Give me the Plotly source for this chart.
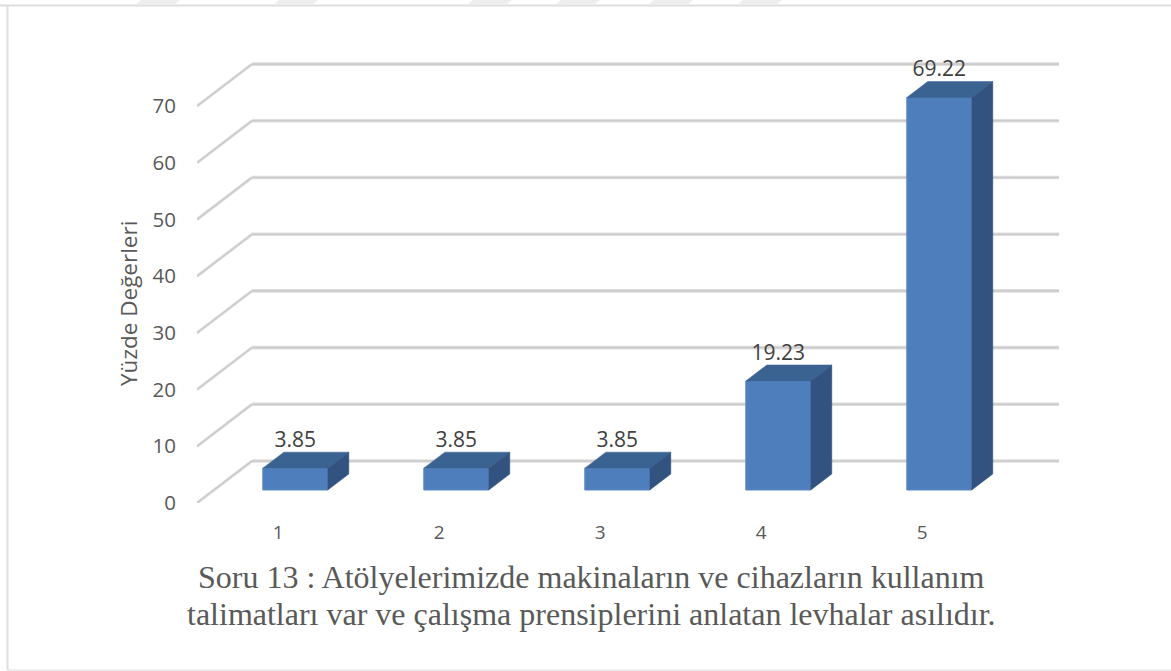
from plotly import graph_objects as go

categories = [1, 2, 3, 4, 5]
values = [3.85, 3.85, 3.85, 19.23, 69.22]
y_ticks = [0, 10, 20, 30, 40, 50, 60, 70]

Y_TITLE = 'Yüzde Değerleri'
CAPTION_LINES = ['Soru 13 : Atölyelerimizde makinaların ve cihazların kullanım',
                 'talimatları var ve çalışma prensiplerini anlatan levhalar asılıdır.']

WIDTH, HEIGHT = 1171, 671
LEFT, RIGHT, TOP, BOTTOM = 197, 1059, 40, 503  # plot area in pixels
PX_X = 161  # pixels per category
PX_Y = 5.67  # pixels per percent
FIRST_BAR_PX = 295.3

x_range = [1 - (FIRST_BAR_PX - LEFT) / PX_X, 1 + (RIGHT - FIRST_BAR_PX) / PX_X]
y_range = [0, (BOTTOM - TOP) / PX_Y]

# fake 3D depth, in axis units
wall_dx, wall_dy = 55 / PX_X, 42 / PX_Y
bar_dx, bar_dy = 21 / PX_X, 16 / PX_Y
bar_lift = 13 / PX_Y
bar_width = 65 / PX_X
label_shift = -17 / PX_X

FONT = 'Open Sans'
TEXT_GREY = '#595959'
FRONT_BLUE = '#4e7fbc'
TOP_BLUE = '#3a6392'
SIDE_BLUE = '#325280'


def paper_x(px):
    return (px - LEFT) / (RIGHT - LEFT)


def paper_y(px):
    return (BOTTOM - px) / (BOTTOM - TOP)


def add_gridlines(fig):
    diag_x, diag_y, back_x, back_y = [], [], [], []
    for tick in y_ticks:
        diag_x += [x_range[0], x_range[0] + wall_dx, None]
        diag_y += [tick, tick + wall_dy, None]
        back_x += [x_range[0] + wall_dx, x_range[1], None]
        back_y += [tick + wall_dy, tick + wall_dy, None]
    for xs, ys, color, width in [
        (diag_x, diag_y, '#dedede', 3),
        (diag_x, diag_y, '#c8c8c8', 1.2),
        (back_x, back_y, '#dedede', 3.6),
        (back_x, back_y, '#cbcbcb', 1.6),
    ]:
        fig.add_trace(go.Scatter(x=xs, y=ys, mode='lines', zorder=0, hoverinfo='skip',
                                 line=dict(color=color, width=width)))


def add_bars(fig):
    fig.add_trace(go.Bar(x=categories, y=values, base=bar_lift, width=bar_width, zorder=1,
                         marker=dict(color=FRONT_BLUE, line=dict(color='#5c89c1', width=1))))
    for cat, val in zip(categories, values):
        left = cat - bar_width / 2
        right = cat + bar_width / 2
        bottom = bar_lift
        top = bar_lift + val
        fig.add_trace(go.Scatter(
            x=[left, left + bar_dx, right + bar_dx, right, left],
            y=[top, top + bar_dy, top + bar_dy, top, top],
            mode='lines', fill='toself', fillcolor=TOP_BLUE, zorder=2, hoverinfo='skip',
            line=dict(color=TOP_BLUE, width=0.5),
        ))
        fig.add_trace(go.Scatter(
            x=[right, right + bar_dx, right + bar_dx, right, right],
            y=[bottom, bottom + bar_dy, top + bar_dy, top, bottom],
            mode='lines', fill='toself', fillcolor=SIDE_BLUE, zorder=2, hoverinfo='skip',
            line=dict(color=SIDE_BLUE, width=0.5),
        ))
    # labels sit on the back edge of each bar top
    fig.add_trace(go.Scatter(
        x=categories,
        y=[val + bar_lift + bar_dy for val in values],
        text=[f'{val:.2f}' for val in values],
        mode='text', textposition='top center', zorder=3, cliponaxis=False,
        textfont=dict(family=FONT, size=21, color='#404040'),
    ))


def frame_shapes():
    shapes = []
    for x0, y0, x1, y1, width in [
        (0, 5.5, WIDTH, 5.5, 2),
        (7.5, 5.5, 7.5, 670, 2),
        (7.5, 670, WIDTH, 670, 1),
    ]:
        shapes.append(dict(type='line', xref='paper', yref='paper', layer='below',
                           x0=paper_x(x0), y0=paper_y(y0), x1=paper_x(x1), y1=paper_y(y1),
                           line=dict(color='#dedede', width=width)))
    # faint watermark stripes peeking in above the frame
    for px in [135, 273, 467, 555, 648, 737]:
        shapes.append(dict(type='path', xref='paper', yref='paper', layer='below',
                           path=f'M {paper_x(px)} {paper_y(5)} L {paper_x(px + 39)} {paper_y(5)} '
                                f'L {paper_x(px + 45)} {paper_y(0)} L {paper_x(px + 6)} {paper_y(0)} Z',
                           fillcolor='#eeeeee', line=dict(width=0)))
    return shapes


fig = go.Figure()
add_gridlines(fig)
add_bars(fig)

fig.update_xaxes(
    range=x_range, showgrid=False, zeroline=False, showline=False, ticks='',
    tickmode='array', tickvals=[cat + label_shift for cat in categories], ticktext=[str(cat) for cat in categories],
    ticklabelstandoff=16, tickfont=dict(family=FONT, size=19, color=TEXT_GREY),
)
fig.update_yaxes(
    range=y_range, showgrid=False, zeroline=False, showline=False, ticks='',
    tickmode='array', tickvals=y_ticks,
    ticklabelstandoff=20, tickfont=dict(family=FONT, size=20.5, color=TEXT_GREY),
)

annotations = [dict(text=Y_TITLE, textangle=-90, showarrow=False, xref='paper', yref='paper',
                    x=paper_x(128), y=paper_y(304), xanchor='center', yanchor='middle',
                    font=dict(family=FONT, size=22.5, color=TEXT_GREY))]
for line, line_y in zip(CAPTION_LINES, [576.5, 613.5]):
    annotations.append(dict(text=line, showarrow=False, xref='paper', yref='paper',
                            x=paper_x(591), y=paper_y(line_y), xanchor='center', yanchor='middle',
                            font=dict(family='Liberation Serif', size=32, color=TEXT_GREY)))

fig.update_layout(
    width=WIDTH, height=HEIGHT, showlegend=False,
    paper_bgcolor='white', plot_bgcolor='rgba(0,0,0,0)',
    margin=dict(l=LEFT, r=WIDTH - RIGHT, t=TOP, b=HEIGHT - BOTTOM, autoexpand=False),
    shapes=frame_shapes(),
    annotations=annotations,
)

# the browser's default body margin would push the whole figure 8px in
fig.write_html("out.html", config={'displayModeBar': False},
               post_script="document.body.style.margin = '0';")
